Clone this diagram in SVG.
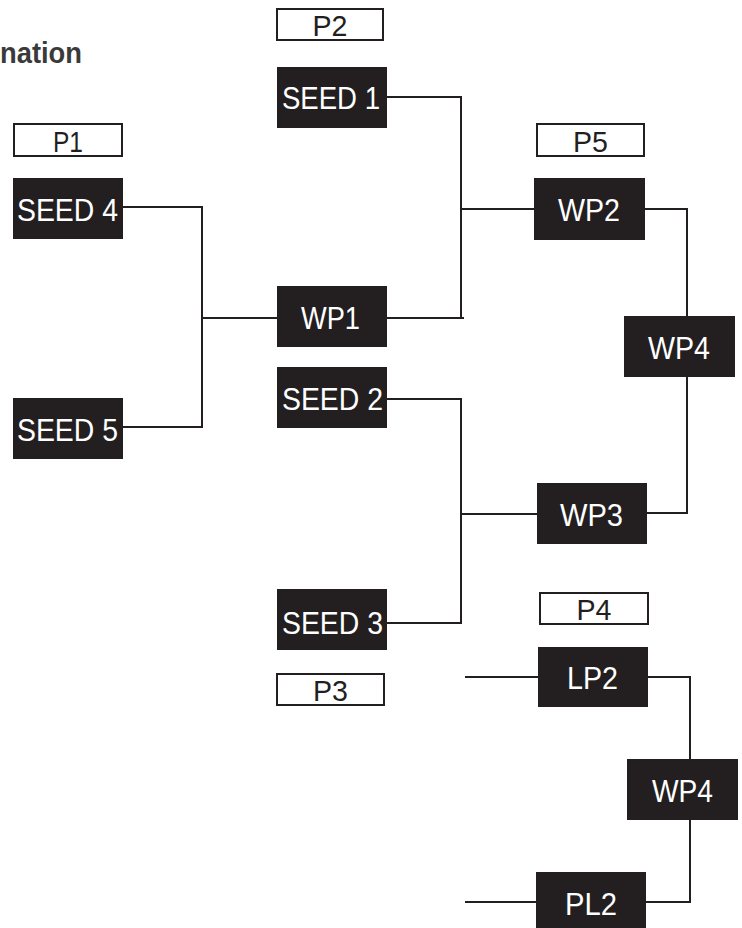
<svg xmlns="http://www.w3.org/2000/svg" width="742" height="928" viewBox="0 0 742 928">
<style>
.node rect{fill:#231f20}
.node text{fill:#ffffff;font-family:"Liberation Sans",Arial,sans-serif;font-size:31px;text-anchor:middle}
.pl rect{fill:#ffffff;stroke:#231f20;stroke-width:2}
.pl text{fill:#231f20;font-family:"Liberation Sans",Arial,sans-serif;font-size:30px;text-anchor:middle}
.conn path{fill:none;stroke:#231f20;stroke-width:2}
.title{fill:#3a3a3a;font-family:"Liberation Sans",Arial,sans-serif;font-size:29px;font-weight:bold}
</style>
<rect width="742" height="928" fill="#ffffff"/>
<text class="title" x="0" y="63" textLength="82" lengthAdjust="spacingAndGlyphs">nation</text>
<g id="connectors" class="conn">
<path d="M123 207 H202 V427 H123"/>
<path d="M202 318 H277"/>
<path d="M387 97 H461 V318"/>
<path d="M387 318 H464"/>
<path d="M461 209 H534"/>
<path d="M645 209 H687 V316"/>
<path d="M687 377 V513 H647"/>
<path d="M387 399 H461 V623 H387"/>
<path d="M461 514 H537"/>
<path d="M465 677 H538"/>
<path d="M648 677 H690 V759"/>
<path d="M690 820 V902 H646"/>
<path d="M465 902 H536"/>
</g>
<g id="P2" class="pl"><rect x="277" y="9" width="106" height="31"/><text x="330" y="36" textLength="35" lengthAdjust="spacingAndGlyphs">P2</text></g>
<g id="P1" class="pl"><rect x="14" y="124" width="108" height="32"/><text x="68" y="152" textLength="30" lengthAdjust="spacingAndGlyphs">P1</text></g>
<g id="P5" class="pl"><rect x="537" y="124" width="107" height="32"/><text x="590.5" y="152" textLength="35" lengthAdjust="spacingAndGlyphs">P5</text></g>
<g id="P4" class="pl"><rect x="540" y="593" width="108" height="31"/><text x="594" y="620" textLength="35" lengthAdjust="spacingAndGlyphs">P4</text></g>
<g id="P3" class="pl"><rect x="277" y="674" width="107" height="31"/><text x="330.5" y="701" textLength="35" lengthAdjust="spacingAndGlyphs">P3</text></g>
<g id="seed1" class="node"><rect x="277" y="67" width="110" height="61"/><text x="331" y="108.5" textLength="98" lengthAdjust="spacingAndGlyphs">SEED 1</text></g>
<g id="seed4" class="node"><rect x="13" y="178" width="110" height="61"/><text x="67.5" y="221" textLength="101" lengthAdjust="spacingAndGlyphs">SEED 4</text></g>
<g id="seed5" class="node"><rect x="13" y="398" width="110" height="61"/><text x="67.5" y="441" textLength="101" lengthAdjust="spacingAndGlyphs">SEED 5</text></g>
<g id="wp1" class="node"><rect x="277" y="286" width="110" height="61"/><text x="330.5" y="328.5" textLength="59" lengthAdjust="spacingAndGlyphs">WP1</text></g>
<g id="seed2" class="node"><rect x="277" y="367" width="110" height="61"/><text x="332.5" y="410" textLength="101" lengthAdjust="spacingAndGlyphs">SEED 2</text></g>
<g id="seed3" class="node"><rect x="277" y="589" width="110" height="61"/><text x="332.5" y="633.5" textLength="101" lengthAdjust="spacingAndGlyphs">SEED 3</text></g>
<g id="wp2" class="node"><rect x="534" y="178" width="111" height="62"/><text x="589" y="220.5" textLength="62" lengthAdjust="spacingAndGlyphs">WP2</text></g>
<g id="wp3" class="node"><rect x="537" y="483" width="110" height="61"/><text x="591.5" y="525.5" textLength="63" lengthAdjust="spacingAndGlyphs">WP3</text></g>
<g id="wp4" class="node"><rect x="624" y="316" width="111" height="61"/><text x="679" y="358.5" textLength="62" lengthAdjust="spacingAndGlyphs">WP4</text></g>
<g id="lp2" class="node"><rect x="538" y="647" width="110" height="60"/><text x="592.5" y="689" textLength="51" lengthAdjust="spacingAndGlyphs">LP2</text></g>
<g id="wp4b" class="node"><rect x="627" y="759" width="111" height="61"/><text x="682.5" y="801.5" textLength="61" lengthAdjust="spacingAndGlyphs">WP4</text></g>
<g id="pl2" class="node"><rect x="536" y="872" width="110" height="61"/><text x="591" y="914.5" textLength="52" lengthAdjust="spacingAndGlyphs">PL2</text></g>
</svg>
